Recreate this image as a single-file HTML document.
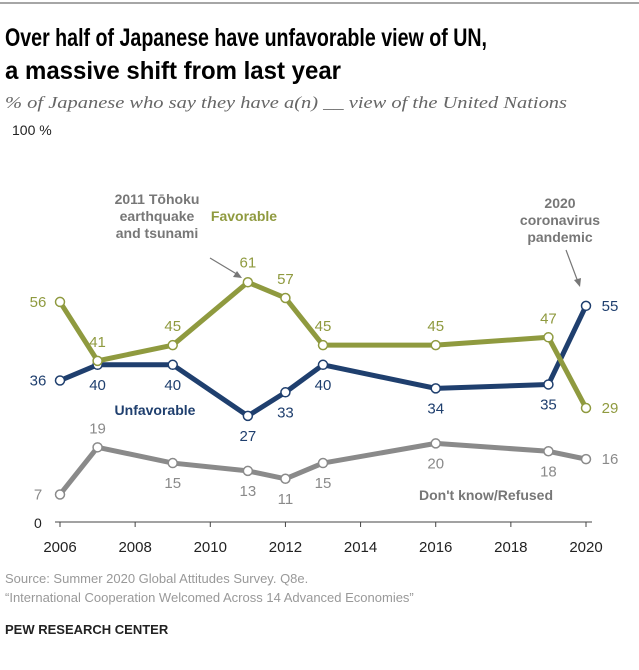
<!DOCTYPE html>
<html><head><meta charset="utf-8"><style>
body{margin:0;background:#fff;width:639px;height:665px;overflow:hidden;font-family:"Liberation Sans",sans-serif}
svg text{font-family:"Liberation Sans",sans-serif}
</style></head><body>
<svg width="639" height="665" xmlns="http://www.w3.org/2000/svg">
<line x1="0" y1="3" x2="639" y2="3" stroke="#888" stroke-width="1.5"/>
<text x="5" y="46" font-size="25" font-weight="bold" textLength="482" lengthAdjust="spacingAndGlyphs">Over half of Japanese have unfavorable view of UN,</text>
<text x="5" y="79" font-size="25" font-weight="bold" textLength="336" lengthAdjust="spacingAndGlyphs">a massive shift from last year</text>
<text x="5" y="108" font-size="17" font-style="italic" fill="#666" textLength="562" lengthAdjust="spacingAndGlyphs" style="font-family:'Liberation Serif',serif">% of Japanese who say they have a(n) __ view of the United Nations</text>
<text x="12" y="135" font-size="14" fill="#222">100 %</text>
<text x="34" y="528" font-size="14" fill="#222">0</text>
<g id="axis"></g>
<g id="series"></g>
<text font-size="14" font-weight="bold" fill="#777" text-anchor="middle"><tspan x="157" y="204">2011 Tōhoku</tspan><tspan x="157" y="221">earthquake</tspan><tspan x="157" y="238">and tsunami</tspan></text>
<line x1="210" y1="258" x2="240" y2="276" stroke="#777" stroke-width="1.2"/>
<path d="M242 278 L233 277 L237 271 Z" fill="#777"/>
<text font-size="14" font-weight="bold" fill="#777" text-anchor="middle"><tspan x="560" y="208">2020</tspan><tspan x="560" y="225">coronavirus</tspan><tspan x="560" y="242">pandemic</tspan></text>
<line x1="566" y1="250" x2="578" y2="282" stroke="#777" stroke-width="1.2"/>
<path d="M580 287 L574 280 L581 278 Z" fill="#777"/>
<text x="244" y="221" font-size="14" font-weight="bold" fill="#8f9a3f" text-anchor="middle">Favorable</text>
<text x="155" y="415" font-size="14" font-weight="bold" fill="#1f3f6e" text-anchor="middle">Unfavorable</text>
<text x="486" y="500" font-size="14" font-weight="bold" fill="#777" text-anchor="middle">Don't know/Refused</text>
<text x="5" y="583" font-size="13" fill="#999">Source: Summer 2020 Global Attitudes Survey. Q8e.</text>
<text x="5" y="602" font-size="13" fill="#999">“International Cooperation Welcomed Across 14 Advanced Economies”</text>
<text x="5" y="634" font-size="13" font-weight="bold" fill="#222">PEW RESEARCH CENTER</text>
</svg>
<script>
const years=[2006,2007,2009,2011,2012,2013,2016,2019,2020];
const favorable=[56,41,45,61,57,45,45,47,29];
const unfavorable=[36,40,40,27,33,40,34,35,55];
const dontKnow=[7,19,15,13,11,15,20,18,16];
const xTicks=[2006,2008,2010,2012,2014,2016,2018,2020];
const NS="http://www.w3.org/2000/svg";
const x=y=>60+(y-2006)*(526/14);
const yS=v=>522-v*3.93;
function mk(t,a,p){const e=document.createElementNS(NS,t);for(const k in a)e.setAttribute(k,a[k]);p.appendChild(e);return e;}
const ax=document.getElementById('axis');
const base=mk('line',{x1:55,x2:592,y1:522,y2:522,stroke:'#444','stroke-width':1},ax);


xTicks.forEach(t=>{
 const l=mk('line',{x1:x(t),x2:x(t),y1:522,y2:527,stroke:'#444'},ax);
 
 
 const tx=mk('text',{x:x(t),y:552,'font-size':15,'text-anchor':'middle',fill:'#222'},ax);
 tx.textContent=t;
 
 
});
const sg=document.getElementById('series');
function series(vals,color,name,offs){
 const pts=vals.map((v,i)=>x(years[i])+','+yS(v)).join(' ');
 const pl=mk('polyline',{points:pts,fill:'none',stroke:color,'stroke-width':5,'stroke-linejoin':'round'},sg);
 
 
 vals.forEach((v,i)=>{
  const c=mk('circle',{cx:x(years[i]),cy:yS(v),r:4.5,fill:'#fff',stroke:color,'stroke-width':1.5},sg);
  
  
  const o=offs[i];
  const t=mk('text',{x:x(years[i])+o[0],y:yS(v)+o[1]+5,'font-size':15,'text-anchor':'middle',fill:color},sg);
  t.textContent=v;
  
  
 });
}
series(dontKnow,'#8a8a8a','dont-know',[[-22,0],[0,-19],[0,20],[0,20],[0,20],[0,20],[0,20],[0,20],[24,0]]);
series(unfavorable,'#1f3f6e','unfavorable',[[-22,0],[0,20],[0,20],[0,20],[0,20],[0,20],[0,20],[0,20],[24,0]]);
series(favorable,'#8f9a3f','favorable',[[-22,0],[0,-19],[0,-19],[0,-20],[0,-19],[0,-19],[0,-19],[0,-19],[24,0]]);
</script>
</body></html>
